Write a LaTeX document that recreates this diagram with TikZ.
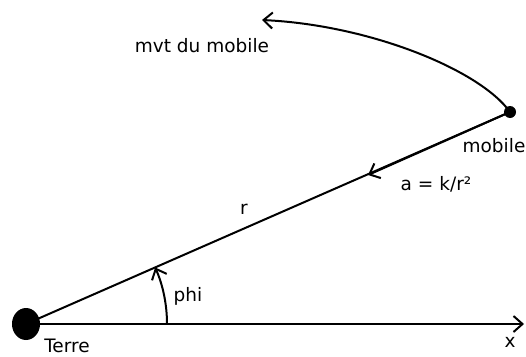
\documentclass[tikz,border=0pt]{standalone}
\usepackage{fontspec}
\setmainfont{DejaVu Sans}
\usetikzlibrary{arrows.meta,shapes.geometric}
\begin{document}
\begin{tikzpicture}[x=1pt,y=-1pt,
  ln/.style={line width=2pt},
  lbl/.style={font=\fontsize{18.5}{20}\selectfont, inner sep=0pt},
  tip/.style={-{Straight Barb[length=9pt,width=16pt,line width=2pt]}}]
\useasboundingbox (0,0) rectangle (526,356);
\node[fill=black, ellipse, minimum width=28pt, minimum height=32pt, inner sep=0pt] (terre) at (26,324) {};
\node[fill=black, circle, minimum size=12pt, inner sep=0pt] (mob) at (510,112) {};
\coordinate (xend) at (524,324);
\draw[ln, tip] (terre.center) -- (xend);
\draw[ln] (terre.center) -- (mob.center);
\coordinate (acc) at (368,175);
\draw[ln, tip] (mob.center) -- (acc);
\coordinate (mvt) at (262,20);
\draw[ln, tip] (mob.center) .. controls (480,70) and (370,25) .. (mvt);
\coordinate (arcstart) at (167,324);
\draw[ln, tip] (arcstart) arc[start angle=0, end angle=-23.65, radius=141];
\node[lbl] (t1) at (202,46) {mvt du mobile};
\node[lbl] (t2) at (494,146) {mobile};
\node[lbl] (t3) at (436,184) {a = k/r²};
\node[lbl] (t4) at (244,209) {r};
\node[lbl] (t5) at (188,296) {phi};
\node[lbl] (t6) at (67,346) {Terre};
\node[lbl] (t7) at (510,342) {x};
\end{tikzpicture}
\end{document}
